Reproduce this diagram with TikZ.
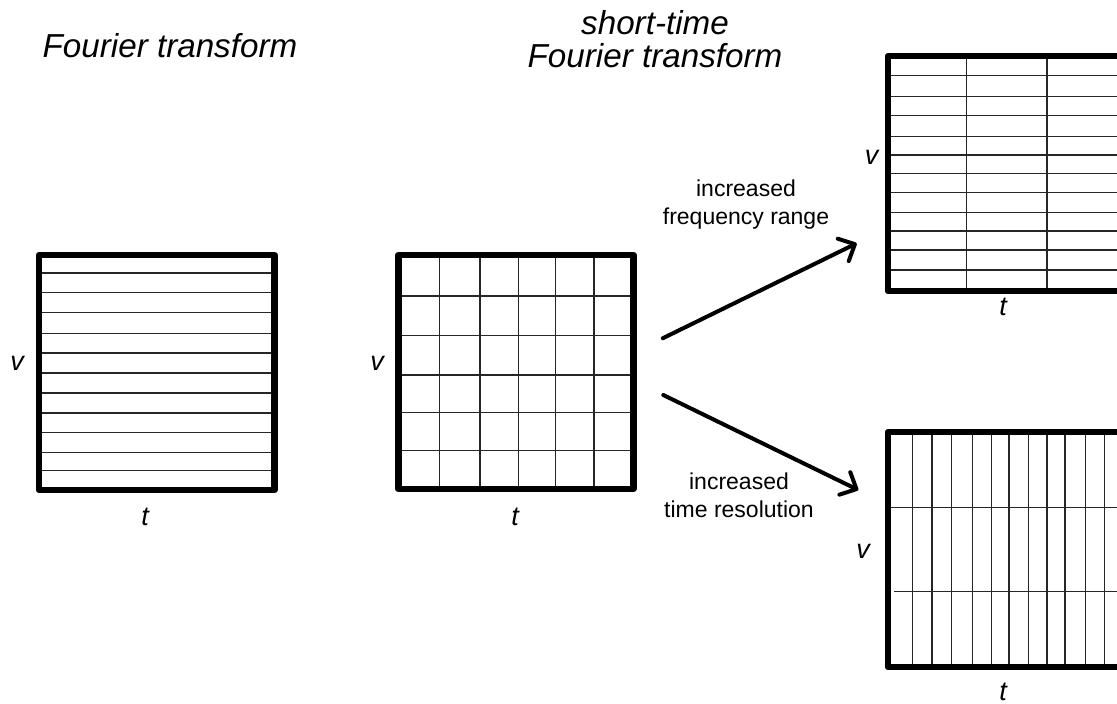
\documentclass[tikz,border=0pt]{standalone}
\usepackage{fontspec}
\setmainfont{Liberation Sans}
\usetikzlibrary{arrows.meta}
\begin{document}
\begin{tikzpicture}[x=1pt,y=-1pt,
  frame/.style={draw=black,line width=6.5pt,line join=round},
  gridline/.style={draw=black!85,line width=1.3pt},
  axis/.style={font=\fontsize{27}{30}\selectfont\itshape,anchor=base,inner sep=0pt},
  title/.style={font=\fontsize{33.2}{32.5}\selectfont\itshape,align=center,inner sep=0pt},
  note/.style={font=\fontsize{23}{27.8}\selectfont,align=center,inner sep=0pt},
  bigarrow/.style={line width=4pt,-{Straight Barb[length=13pt,width=25pt,line width=4pt,line cap=round,line join=round]},line cap=round}]
\useasboundingbox (0,0) rectangle (1117,704);

% titles (anchor=base refers to the last line)
\node[title,anchor=base] (t1) at (170,57) {Fourier transform};
\node[title,anchor=base] (t2) at (655,67) {short-time\\Fourier transform};

% box 1: Fourier transform
\foreach \y in {273,292.7,312.7,333.3,353,373,393,413,432.7,452.7,470.3}
  \draw[gridline] (39,\y) -- (274.5,\y);
\draw[frame] (39,255) rectangle (274.5,490);
\node[axis] (v1) at (17,370) {v};
\node[axis] (x1) at (145,525) {t};

% box 2: STFT
\foreach \x in {439.3,480,518.3,555.7,594}
  \draw[gridline] (\x,255) -- (\x,489);
\foreach \y in {296,335.7,375,412.3,450.3}
  \draw[gridline] (398.5,\y) -- (633.5,\y);
\draw[frame] (398.5,255) rectangle (633.5,489);
\node[axis] (v2) at (377,370) {v};
\node[axis] (x2) at (515,525) {t};

% box 3: increased frequency range
\foreach \y in {75.7,96.7,115.7,136.3,155,173.3,192.3,212.3,231,250,270}
  \draw[gridline] (888,\y) -- (1123,\y);
\foreach \x in {966.7,1047}
  \draw[gridline] (\x,56) -- (\x,291);
\draw[frame] (888,56) rectangle (1123,291);
\node[axis] (v3) at (871.7,164) {v};
\node[axis] (x3) at (1003,315) {t};

% box 4: increased time resolution
\foreach \x in {912.7,932,951.7,972.7,991.7,1009,1028.3,1047,1065,1085.3,1104.3}
  \draw[gridline] (\x,432) -- (\x,667);
\draw[gridline] (888,507.3) -- (1123,507.3);
\draw[gridline] (894.3,591.7) -- (1123,591.7);
\draw[frame] (888,432) rectangle (1123,667);
\node[axis] (v4) at (863,558.3) {v};
\node[axis] (x4) at (1003,700.5) {t};

% arrows
\coordinate (a1s) at (662.7,338.3);
\coordinate (a1e) at (856.7,243.3);
\coordinate (a2s) at (663.3,395);
\coordinate (a2e) at (858.3,490);
\draw[bigarrow] (a1s) -- (a1e);
\draw[bigarrow] (a2s) -- (a2e);

\node[note,anchor=base] (n1) at (746,224) {increased\\frequency range};
\node[note,anchor=base] (n2) at (739,517.3) {increased\\time resolution};
\end{tikzpicture}
\end{document}
